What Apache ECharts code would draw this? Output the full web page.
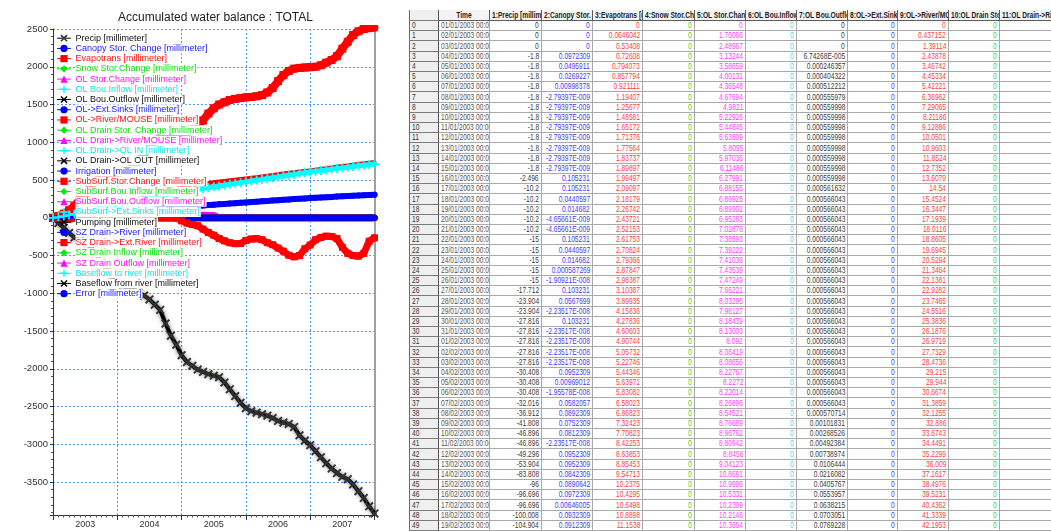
<!DOCTYPE html>
<html>
<head>
<meta charset="utf-8">
<title>Accumulated water balance : TOTAL</title>
<script src="https://cdn.jsdelivr.net/npm/echarts@6/dist/echarts.min.js"></script>
<style>
  html, body { margin: 0; padding: 0; background: #fff; }
  body { width: 1051px; height: 531px; position: relative; overflow: hidden;
         font-family: "Liberation Sans", Arial, sans-serif; }
  #chart { position: absolute; left: 0; top: 0; width: 400px; height: 531px; }
  #panelTop { position: absolute; left: 8px; top: 9px; width: 392px; height: 1px; background: #a8a8a8; }
  #sheet { position: absolute; left: 409px; top: 10px; width: 642px; height: 521px; overflow: hidden; }
  .cell { position: absolute; box-sizing: border-box; overflow: hidden; white-space: nowrap;
          font-size: 8.3px; background: #fff; color: #333;
          border-right: 1px solid #a9a9a9; border-bottom: 1px solid #a9a9a9; }
  .cell span { position: absolute; top: 0; white-space: nowrap; }
  .hdr { background: #f4f4f4; border-right: 1px solid #5c5c5c; border-bottom: 1px solid #5c5c5c;
         font-weight: bold; color: #1c1c1c; }
  .idx { background: #efefef; border-left: 1px solid #6a6a6a; border-right: 1px solid #555;
         border-bottom: 1px solid #7c7c7c; color: #333; }
</style>
</head>
<body>
<div id="panelTop"></div>
<div id="chart"></div>
<div id="sheet"></div>
<script>
// ---------------------------------------------------------------
// Accumulated water balance, monthly readings 2003-01 .. 2008-01 (mm)
// ---------------------------------------------------------------
const precipMm = [0, -70, -130, -200, -260, -300, -330, -380, -470, -580, -700, -800,
  -870, -900, -930, -960, -990, -1030, -1080, -1150, -1220, -1400, -1560, -1680,
  -1820, -1910, -1960, -2010, -2040, -2070, -2090, -2110, -2180, -2270, -2360, -2450,
  -2520, -2560, -2580, -2600, -2620, -2650, -2690, -2710, -2730, -2770, -2880, -2950,
  -3010, -3090, -3170, -3250, -3320, -3380, -3430, -3460, -3530, -3620, -3710, -3820,
  -3915];
const evapMm = [0, 7, 16, 28, 44, 62, 82, 102, 122, 140, 156, 170,
  182, 194, 208, 226, 246, 268, 290, 312, 333, 352, 370, 386,
  401, 416, 432, 441, 451, 461, 471, 480, 489, 497, 505, 513,
  521, 529, 538, 548, 558, 568, 578, 587, 596, 604, 612, 620,
  628, 636, 645, 655, 665, 675, 685, 694, 703, 712, 721, 730,
  738];
const olRiverMm = [0, 25, 55, 100, 160, 240, 330, 420, 490, 540, 570, 590,
  600, 610, 630, 680, 750, 840, 930, 1010, 1060, 1090, 1110, 1120,
  1130, 1140, 1170, 1220, 1290, 1380, 1450, 1500, 1530, 1560, 1575, 1585,
  1595, 1600, 1610, 1625, 1660, 1720, 1810, 1890, 1945, 1975, 1985, 1990,
  1995, 2000, 2020, 2055, 2090, 2140, 2240, 2330, 2420, 2470, 2500, 2510,
  2515];
const subStorMm = [0, -10, -20, -15, -5, 5, 10, 5, -5, -15, -20, -15,
  -10, -5, 0, 0, 0, 0, 0, 0, 0, 0, 0, -5,
  -40, -70, -90, -105, -150, -195, -230, -275, -305, -330, -342, -340,
  -300, -280, -276, -290, -330, -356, -400, -442, -495, -517, -500, -410,
  -360, -290, -260, -243, -248, -275, -390, -470, -500, -508, -470, -310,
  -265];
const szRiverMm = [0, 4, 9, 14, 20, 26, 32, 38, 44, 50, 56, 62,
  68, 74, 80, 86, 92, 98, 104, 110, 116, 122, 128, 134,
  140, 146, 152, 158, 164, 169, 174, 179, 184, 189, 194, 199,
  204, 209, 214, 219, 224, 229, 234, 239, 244, 249, 253, 257,
  261, 265, 269, 273, 277, 281, 285, 289, 293, 297, 300, 303,
  306];
const baseToRiverMm = [0, 10, 22, 36, 52, 68, 84, 100, 115, 130, 145, 160,
  174, 188, 202, 216, 230, 244, 258, 272, 286, 300, 314, 327,
  340, 353, 366, 377, 388, 399, 410, 421, 432, 443, 454, 465,
  476, 487, 498, 509, 520, 531, 542, 553, 564, 575, 586, 597,
  607, 616, 625, 634, 643, 652, 661, 670, 679, 688, 697, 705,
  712];
// sparse readings (decimal year, mm)
const olStorT = [2003.0, 2003.13, 2004.0, 2005.0, 2005.3, 2005.5, 2005.62, 2006.5, 2008.0];
const olStorMm = [0, 10, 25, 45, 62, 58, 20, 12, 10];
const szInflowT = [2003.0, 2003.4, 2008.0];
const szInflowMm = [0, -45, -45];
const zeroT = [2003.0, 2008.0];
const zeroMm = [0, 0];

const yearLabels = ['2003', '2004', '2005', '2006', '2007'];

const seriesNames = ['Precip', 'Canopy Stor. Change', 'Evapotrans', 'Snow Stor.Change',
  'OL Stor.Change', 'OL Bou.Inflow', 'OL Bou.Outflow', 'OL->Ext.Sinks', 'OL->River/MOUSE',
  'OL Drain Stor. Change', 'OL Drain->River/MOUSE', 'OL Drain->OL IN', 'OL Drain->OL OUT',
  'Irrigation', 'SubSurf.Stor.Change', 'SubSurf.Bou.Inflow', 'SubSurf.Bou.Outflow',
  'SubSurf->Ext.Sinks', 'Pumping', 'SZ Drain->River', 'SZ Drain->Ext.River',
  'SZ Drain Inflow', 'SZ Drain Outflow', 'Baseflow to river', 'Baseflow from river', 'Error'];
const unit = ' [millimeter]';

// ---------------------------------------------------------------
// Daily table rows 01/01/2003 .. 19/02/2003
// ---------------------------------------------------------------
const rowCount = 50;
const precipCol = [0, 0, 0, -1.8, -1.8, -1.8, -1.8, -1.8, -1.8, -1.8, -1.8, -1.8, -1.8, -1.8, -1.8,
  -2.496, -10.2, -10.2, -10.2, -10.2, -10.2, -15, -15, -15, -15, -15, -17.712, -23.904, -23.904,
  -27.816, -27.816, -27.816, -27.816, -27.816, -30.408, -30.408, -30.408, -32.016, -36.912,
  -41.808, -46.896, -46.896, -49.296, -53.904, -83.808, -96, -96.696, -96.696, -100.008, -104.904];
const canopyCol = [0, 0, 0, 0.0972309, 0.0495911, 0.0269227, 0.00998378,
  -2.79397e-9, -2.79397e-9, -2.79397e-9, -2.79397e-9, -2.79397e-9, -2.79397e-9, -2.79397e-9, -2.79397e-9,
  0.105231, 0.105231, 0.0440597, 0.014682, -4.65661e-9, -4.65661e-9,
  0.105231, 0.0440597, 0.014682, 0.000587269, -1.90921e-8,
  0.103231, 0.0567699, -2.23517e-8, 0.103231, -2.23517e-8, -2.23517e-8, -2.23517e-8, -2.23517e-8,
  0.0952309, 0.00969012, -1.95578e-8,
  0.0582057, 0.0892309, 0.0752309, 0.0812309, -2.23517e-8,
  0.0952309, 0.0952309, 0.0842309, 0.0890642, 0.0972309, 0.00646005, 0.0932309, 0.0912309];
const evapCol = [0, 0.0646042, 0.53408, 0.72608, 0.794073, 0.857794, 0.921111, 1.19407, 1.25677, 1.48581,
  1.65172, 1.71376, 1.77564, 1.83737, 1.89897, 1.99497, 2.09097, 2.18179, 2.26742, 2.43721,
  2.52153, 2.61753, 2.70824, 2.79366, 2.87847, 2.98387, 3.10387, 3.89935, 4.15836, 4.27836,
  4.60603, 4.90744, 5.05732, 5.22746, 5.44346, 5.63971, 5.83082, 6.58023, 6.86823, 7.32423,
  7.70823, 8.42253, 8.63853, 8.85453, 9.54713, 10.2375, 10.4295, 10.6498, 10.8898, 11.1538];
const snowCol = new Array(rowCount).fill(0);
const olStorCol = [0, 1.76066, 2.48967, 3.13244, 3.58659, 4.00131, 4.36548, 4.67694, 4.9821, 5.22926,
  5.44845, 5.63809, 5.8095, 5.97036, 6.11486, 6.27991, 6.88155, 6.86925, 6.89902, 6.95283,
  7.02878, 7.38593, 7.39222, 7.41036, 7.43539, 7.47249, 7.66221, 8.03295, 7.98127, 8.18439,
  8.13003, 8.092, 8.08419, 8.08656, 8.22767, 8.2272, 8.22014, 8.26896, 8.54521, 8.76689,
  8.96762, 8.80942, 8.8456, 9.04123, 10.8661, 10.9996, 10.5331, 10.2309, 10.2146, 10.3664];
const olBouInCol = new Array(rowCount).fill(0);
const olBouOutCol = [0, 0, 0, 6.74268e-5, 0.000246357, 0.000404322, 0.000512212, 0.000555979, 0.000559998, 0.000559998,
  0.000559998, 0.000559998, 0.000559998, 0.000559998, 0.000559998, 0.000559998, 0.000561632, 0.000566043, 0.000566043, 0.000566043,
  0.000566043, 0.000566043, 0.000566043, 0.000566043, 0.000566043, 0.000566043, 0.000566043, 0.000566043, 0.000566043, 0.000566043,
  0.000566043, 0.000566043, 0.000566043, 0.000566043, 0.000566043, 0.000566043, 0.000566043, 0.000566043, 0.000570714, 0.00101831,
  0.00268526, 0.00492384, 0.00738974, 0.0106444, 0.0216082, 0.0405767, 0.0553957, 0.0638215, 0.0703051, 0.0769228];
const olExtCol = new Array(rowCount).fill(0);
const olRiverCol = [0, 0.437152, 1.39114, 2.43878, 3.46742, 4.45334, 5.42221, 6.36962, 7.29065, 8.21186,
  9.12886, 10.0501, 10.9603, 11.8524, 12.7352, 13.6079, 14.54, 15.4524, 16.3447, 17.1939,
  18.0116, 18.8605, 19.6945, 20.5294, 21.3464, 22.1381, 22.9282, 23.7465, 24.5516, 25.3836,
  26.1876, 26.9719, 27.7329, 28.4736, 29.215, 29.944, 30.6674, 31.3859, 32.1255, 32.886,
  33.6743, 34.4491, 35.2299, 36.009, 37.1617, 38.4976, 39.5231, 40.4362, 41.3339, 42.1953];
const olDrainStorCol = new Array(rowCount).fill(0);
const olDrainRiverCol = new Array(rowCount).fill(0);

const tableHeaders = ['Time', '1:Precip [millimeter]', '2:Canopy Stor. Change [millimeter]',
  '3:Evapotrans [millimeter]', '4:Snow Stor.Change [millimeter]', '5:OL Stor.Change [millimeter]',
  '6:OL Bou.Inflow [millimeter]', '7:OL Bou.Outflow [millimeter]', '8:OL->Ext.Sinks [millimeter]',
  '9:OL->River/MOUSE [millimeter]', '10:OL Drain Stor. Change [millimeter]',
  '11:OL Drain->River/MOUSE [millimeter]'];

// ---------------------------------------------------------------
// Chart
// ---------------------------------------------------------------
const FONT = '"Liberation Sans", Arial, sans-serif';
const lineColors = ['#000000', '#0000ff', '#ff0000', '#00ee00', '#ff00ff', '#00ffff'];
const textColors = ['#111111', '#2020ff', '#ff1010', '#10dd10', '#ff10ff', '#10e8e8'];
const CROSS = 'path://M0,1.5L1.5,0L5,3.5L8.5,0L10,1.5L6.5,5L10,8.5L8.5,10L5,6.5L1.5,10L0,8.5L3.5,5Z';
const PLUS = 'path://M4,0L6,0L6,4L10,4L10,6L6,6L6,10L4,10L4,6L0,6L0,4L4,4Z';
const markers = [CROSS, 'circle', 'rect', 'diamond', 'triangle', PLUS];

const monthT = [];
for (let m = 0; m <= 60; m++) monthT.push(2003 + m / 12);

const tracks = {
  'Precip': [monthT, precipMm],
  'Evapotrans': [monthT, evapMm],
  'OL Stor.Change': [olStorT, olStorMm],
  'OL->River/MOUSE': [monthT, olRiverMm],
  'SubSurf.Stor.Change': [monthT, subStorMm],
  'SZ Drain->River': [monthT, szRiverMm],
  'SZ Drain Inflow': [szInflowT, szInflowMm],
  'Baseflow to river': [monthT, baseToRiverMm]
};
const looks = {
  'Precip': { w: 4, sym: true, size: 9, halo: true },
  'Evapotrans': { w: 4 },
  'OL Stor.Change': { w: 3 },
  'OL->River/MOUSE': { w: 8, sym: true, size: 8 },
  'SubSurf.Stor.Change': { w: 7, sym: true, size: 7 },
  'SZ Drain->River': { w: 6, sym: true, size: 6 },
  'SZ Drain Inflow': { w: 1.5 },
  'Baseflow to river': { w: 5, sym: true, size: 9 }
};

const gridDots = { color: '#4d9cff', width: 1, type: [2, 2] };

const series = seriesNames.map((n, k) => {
  const tr = tracks[n] || [zeroT, zeroMm];
  const lk = looks[n] || { w: 6 };
  const col = lineColors[k % 6];
  const ls = { color: col, width: lk.w, cap: 'round', join: 'round' };
  if (lk.halo) { ls.shadowColor = 'rgba(0,0,0,0.6)'; ls.shadowBlur = 4; }
  return {
    type: 'line',
    name: n + unit,
    data: tr[0].map((t, i) => [t, tr[1][i]]),
    symbol: markers[k % 6],
    symbolSize: lk.size || 6,
    showSymbol: !!lk.sym,
    showAllSymbol: true,
    lineStyle: ls,
    itemStyle: { color: lk.halo ? '#333' : col },
    emphasis: { disabled: true },
    silent: true,
    animation: false
  };
});

const plainNumber = v => String(Math.round(v));

const chart = echarts.init(document.getElementById('chart'), null, { renderer: 'canvas', devicePixelRatio: 1 });
chart.setOption({
  animation: false,
  backgroundColor: '#ffffff',
  textStyle: { fontFamily: FONT },
  title: {
    text: 'Accumulated water balance : TOTAL',
    left: 118, top: 12, padding: 0,
    textStyle: { fontSize: 12, fontWeight: 'normal', color: '#222', fontFamily: FONT }
  },
  grid: { left: 53, top: 29, width: 321.5, height: 486, containLabel: false },
  legend: {
    orient: 'vertical', left: 57, top: 33.2, padding: 0,
    itemGap: 0.22, itemWidth: 13, itemHeight: 9,
    selectedMode: false,
    lineStyle: { width: 1 },
    itemStyle: { borderWidth: 0 },
    textStyle: { fontSize: 9, lineHeight: 10, fontFamily: FONT, backgroundColor: '#ffffff', padding: [0, 1, 0, 0] },
    data: seriesNames.map((n, k) => ({ name: n + unit, textStyle: { color: textColors[k % 6] } }))
  },
  xAxis: [{
    type: 'value', min: 2003, max: 2008, interval: 1,
    axisLine: { show: true, onZero: false, lineStyle: { color: '#333', width: 1 } },
    axisTick: { show: true, length: 5, lineStyle: { color: '#333' } },
    minorTick: { show: true, splitNumber: 12, length: 2.5, lineStyle: { color: '#555' } },
    axisLabel: { show: false },
    splitLine: { show: true, lineStyle: gridDots }
  }, {
    type: 'category', data: yearLabels, position: 'bottom', boundaryGap: true,
    axisLine: { show: false }, axisTick: { show: false }, splitLine: { show: false },
    axisLabel: { fontSize: 9, color: '#333', margin: 5, fontFamily: FONT }
  }],
  yAxis: [{
    // 500 mm steps come from splitNumber so the ticks stay on round values
    type: 'value', min: -3935, max: 2500, splitNumber: 13,
    axisLine: { show: true, onZero: false, lineStyle: { color: '#333', width: 1 } },
    axisTick: { show: true, length: 3, lineStyle: { color: '#333' } },
    minorTick: { show: true, splitNumber: 5, length: 2, lineStyle: { color: '#555' } },
    axisLabel: { fontSize: 9.5, color: '#333', margin: 5, showMinLabel: false, fontFamily: FONT,
                 formatter: plainNumber },
    splitLine: { show: true, lineStyle: gridDots }
  }, {
    type: 'value', position: 'right', min: -3935, max: 2500,
    axisLine: { show: true, onZero: false, lineStyle: { color: '#a0a0a0', width: 2 } },
    axisTick: { show: false }, axisLabel: { show: false }, splitLine: { show: false }
  }],
  series: series
});

// ---------------------------------------------------------------
// Data sheet
// ---------------------------------------------------------------
const sheet = document.getElementById('sheet');
const colW = [30, 51, 52, 51, 50, 52, 51, 51, 51, 50, 51, 51, 60];
const headH = 11, rowH = 10.2, squeeze = 0.8;
const valueCols = [precipCol, canopyCol, evapCol, snowCol, olStorCol, olBouInCol,
  olBouOutCol, olExtCol, olRiverCol, olDrainStorCol, olDrainRiverCol];
const valueInk = ['#3a3a3a', '#3b3bff', '#ff3b3b', '#33d633', '#ff3bff', '#35e0e0',
  '#3a3a3a', '#3b3bff', '#ff3b3b', '#33d633', '#ff3bff'];

function fmtG(v) {
  if (v === 0) return '0';
  const a = Math.abs(v);
  if (a < 1e-4) {
    const parts = v.toExponential(5).split('e');
    const mant = parts[0].replace(/\.?0+$/, '');
    const ex = parseInt(parts[1], 10);
    return mant + 'E' + (ex < 0 ? '-' : '+') + String(Math.abs(ex)).padStart(3, '0');
  }
  let s = v.toPrecision(6);
  if (s.indexOf('.') >= 0) s = s.replace(/0+$/, '').replace(/\.$/, '');
  return s;
}
function dayLabel(r) {
  const d = new Date(Date.UTC(2003, 0, 1 + r));
  const dd = String(d.getUTCDate()).padStart(2, '0');
  const mm = String(d.getUTCMonth() + 1).padStart(2, '0');
  return dd + '/' + mm + '/' + d.getUTCFullYear() + ' 00:00';
}
function put(cls, x, y, w, h, text, align, color) {
  const d = document.createElement('div');
  d.className = 'cell ' + cls;
  d.style.left = x + 'px'; d.style.top = y + 'px';
  d.style.width = w + 'px'; d.style.height = h + 'px';
  const s = document.createElement('span');
  s.textContent = text;
  s.style.lineHeight = (h - 1) + 'px';
  if (color) s.style.color = color;
  d.appendChild(s);
  sheet.appendChild(d);
  if (align === 'center' && s.offsetWidth * squeeze > w - 4) align = 'left';
  if (align === 'left') {
    s.style.left = '2px'; s.style.transformOrigin = '0 50%';
    s.style.transform = 'scaleX(' + squeeze + ')';
  } else if (align === 'right') {
    s.style.right = '2px'; s.style.transformOrigin = '100% 50%';
    s.style.transform = 'scaleX(' + squeeze + ')';
  } else {
    s.style.left = '50%'; s.style.transformOrigin = '50% 50%';
    s.style.transform = 'translateX(-50%) scaleX(' + squeeze + ')';
  }
}
const colX = [];
colW.reduce((acc, w) => { colX.push(acc); return acc + w; }, 0);

put('hdr idx', 0, 0, colW[0], headH, '', 'left');
tableHeaders.forEach((h, c) => put('hdr', colX[c + 1], 0, colW[c + 1], headH, h, 'center'));
for (let r = 0; r < rowCount; r++) {
  const y0 = Math.round(headH + r * rowH);
  const y1 = Math.round(headH + (r + 1) * rowH);
  const h = y1 - y0;
  put('idx', 0, y0, colW[0], h, String(r), 'left');
  put('', colX[1], y0, colW[1], h, dayLabel(r), 'left', '#555');
  valueCols.forEach((col, c) => {
    put('', colX[c + 2], y0, colW[c + 2], h, fmtG(col[r]), 'right', valueInk[c]);
  });
}
</script>
</body>
</html>
